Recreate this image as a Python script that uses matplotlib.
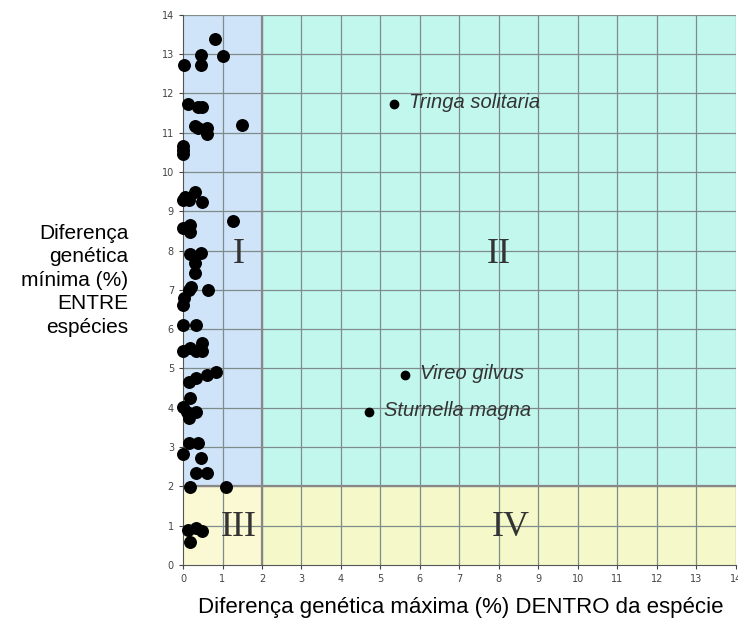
import matplotlib.pyplot as plt
from matplotlib.patches import Rectangle

# pontos (distância máxima dentro, distância mínima entre)
x_pts = [0.81, 0.45, 1.0, 0.02, 0.45, 0.13, 0.39, 0.49, 0.30, 0.39, 0.6, 0.6, 1.49,
         0.0, 0.0, 0.0,
         0.05, 0.30, 0.16, 0.47, 0.0, 1.26, 0.18, 0.0, 0.18,
         0.18, 0.46, 0.30, 0.30, 0.19, 0.16, 0.64, 0.02, 0.0,
         0.0, 0.32, 0.0, 0.18, 0.32, 0.47, 0.47,
         0.16, 0.32, 0.6, 0.84, 0.18, 0.0, 0.11, 0.32, 0.16,
         0.16, 0.39, 0.0, 0.46, 0.32, 0.6, 0.18, 1.08,
         0.13, 0.32, 0.47, 0.18]
y_pts = [13.38, 12.98, 12.96, 12.72, 12.72, 11.73, 11.65, 11.65, 11.18, 11.13, 11.13, 10.98, 11.2,
         10.65, 10.55, 10.45,
         9.37, 9.5, 9.29, 9.24, 9.29, 8.76, 8.65, 8.57, 8.48,
         7.91, 7.93, 7.68, 7.44, 7.08, 6.99, 7.0, 6.78, 6.62,
         6.1, 6.1, 5.45, 5.51, 5.45, 5.64, 5.45,
         4.66, 4.75, 4.83, 4.92, 4.24, 4.01, 3.9, 3.9, 3.73,
         3.1, 3.1, 2.82, 2.71, 2.35, 2.35, 1.99, 1.99,
         0.89, 0.93, 0.87, 0.57]

especies = ["Tringa solitaria", "Vireo gilvus", "Sturnella magna"]
esp_x = [5.34, 5.62, 4.71]
esp_y = [11.73, 4.83, 3.89]

quadrantes = ["I", "II", "III", "IV"]
quad_x = [1.4, 8.0, 1.4, 8.3]
quad_y = [7.9, 7.9, 0.95, 0.95]

fig = plt.figure(figsize=(7.38, 6.2), dpi=100)
ax = fig.add_axes([0.248, 0.089, 0.749, 0.887])

ax.add_patch(Rectangle((0, 2), 2, 12, facecolor="#cfe4f8", edgecolor="none", zorder=0))
ax.add_patch(Rectangle((2, 2), 12, 12, facecolor="#c2f7ee", edgecolor="none", zorder=0))
ax.add_patch(Rectangle((0, 0), 2, 2, facecolor="#fbf9d4", edgecolor="none", zorder=0))
ax.add_patch(Rectangle((2, 0), 12, 2, facecolor="#f5f8c9", edgecolor="none", zorder=0))

for v in range(1, 15):
    ax.axvline(v, color="#7f8c8c", lw=0.9, zorder=1)
    ax.axhline(v, color="#7f8c8c", lw=0.9, zorder=1)
ax.axvline(2, color="#888888", lw=1.6, zorder=1)
ax.axhline(2, color="#888888", lw=1.6, zorder=1)

ax.plot(x_pts, y_pts, "o", color="black", ms=8.3, zorder=3, clip_on=False)
ax.plot(esp_x, esp_y, "o", color="black", ms=6, zorder=3)
for nome, ex, ey in zip(especies, esp_x, esp_y):
    ax.text(ex + 0.38, ey + 0.03, nome, fontsize=14.5, style="italic", color="#333333",
            family="Liberation Sans", va="center", ha="left", zorder=4)

for q, qx, qy in zip(quadrantes, quad_x, quad_y):
    ax.text(qx, qy, q, fontsize=26, family="Liberation Serif", color="#333333",
            ha="center", va="center", zorder=4)

ax.set_xlim(0, 14)
ax.set_ylim(0, 14)
ax.set_xticks(range(15))
ax.set_yticks(range(15))
ax.tick_params(labelsize=7, colors="#444444", length=3, direction="out")
for s in ["top", "right"]:
    ax.spines[s].set_visible(False)
ax.spines["left"].set_color("#555555")
ax.spines["bottom"].set_color("#555555")

fig.text(0.625, 0.02, "Diferença genética máxima (%) DENTRO da espécie", fontsize=16,
         family="Liberation Sans", ha="center", va="center")
fig.text(0.174, 0.548, "Diferença\ngenética\nmínima (%)\nENTRE\nespécies", fontsize=15,
         family="Liberation Sans", ha="right", va="center", linespacing=1.3)

fig.savefig("out.png", dpi=100)
